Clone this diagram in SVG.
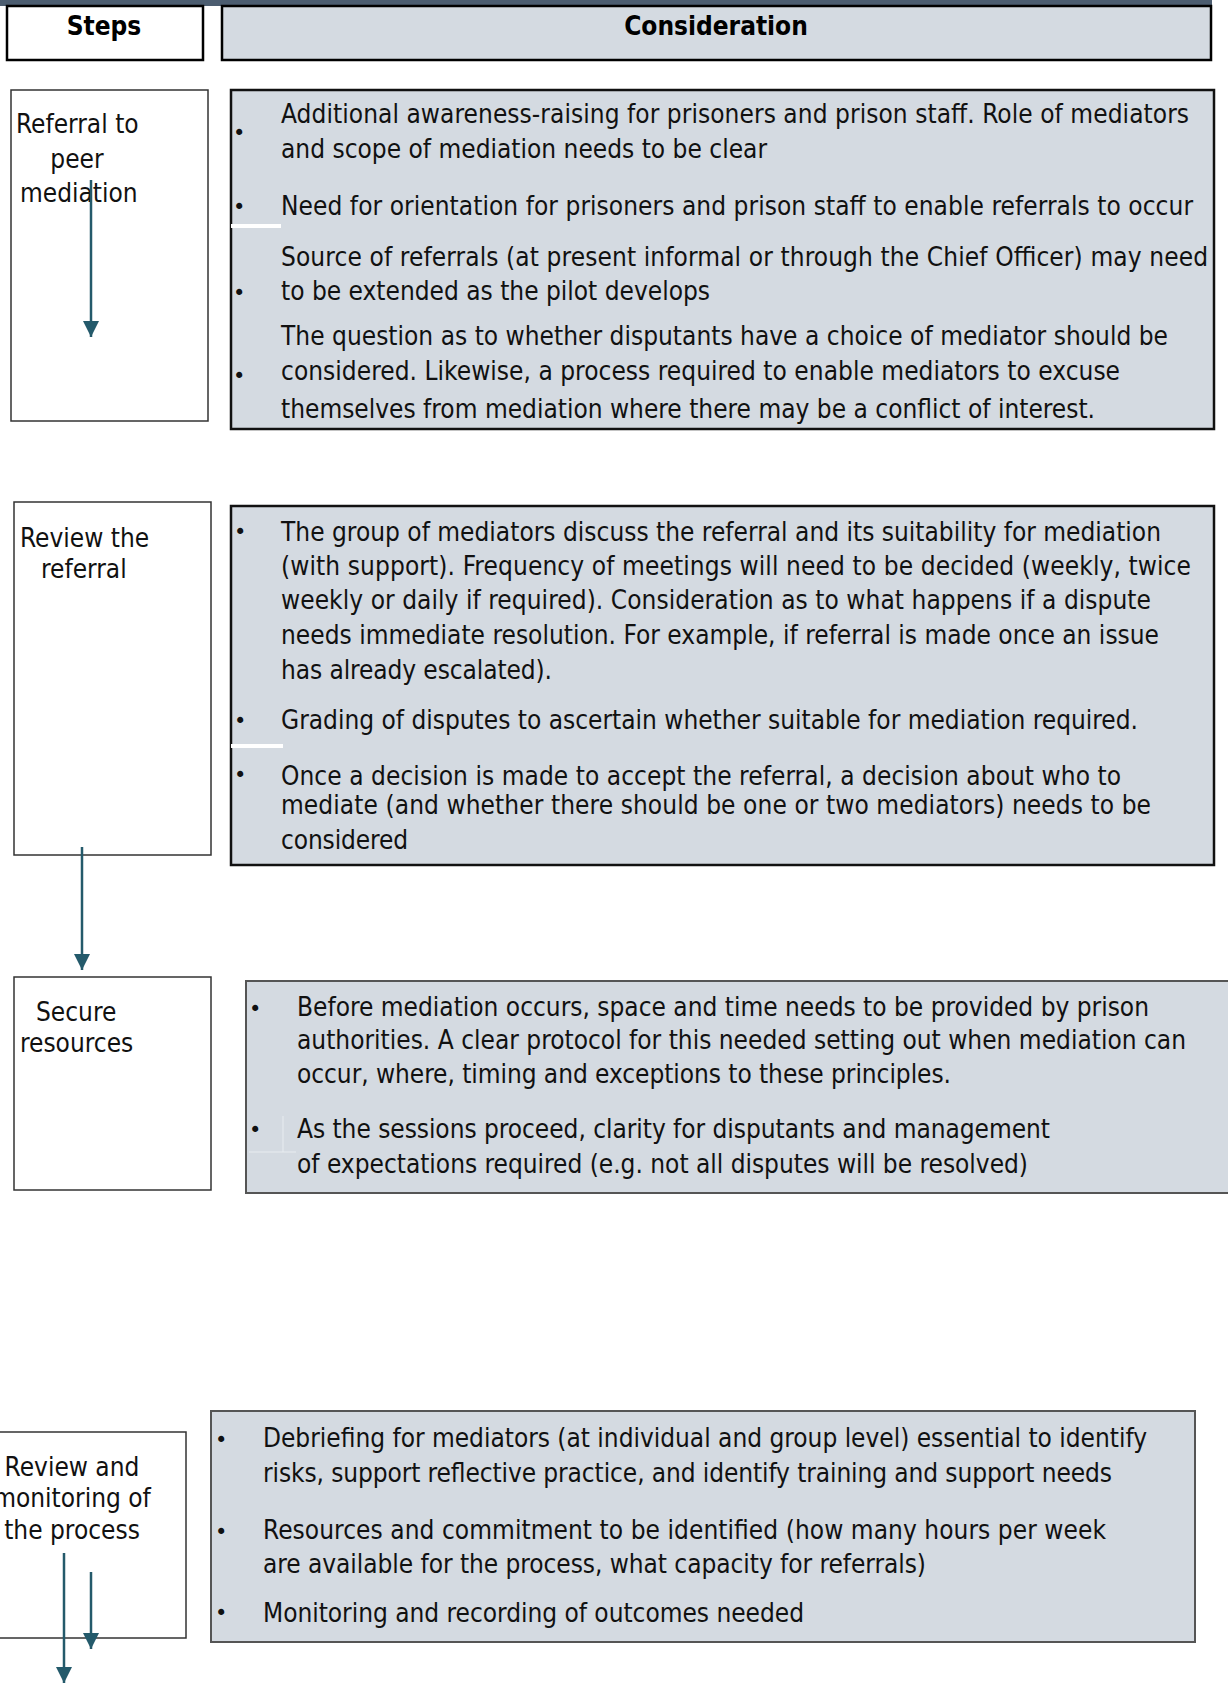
<svg xmlns="http://www.w3.org/2000/svg" width="1228" height="1683" viewBox="0 0 1228 1683">
<defs>
<style>
.t{font-family:"DejaVu Sans Condensed","DejaVu Sans",sans-serif;font-size:26px;fill:#111;font-stretch:condensed}
.h{font-family:"DejaVu Sans Condensed","DejaVu Sans",sans-serif;font-size:26px;font-weight:bold;fill:#000;font-stretch:condensed}
.b{font-family:"DejaVu Sans",sans-serif;font-size:21px;fill:#111}
.step{fill:#fff;stroke:#333;stroke-width:1.5}
.cons{fill:#d4dae1;stroke:#111;stroke-width:2.5}
.cons2{fill:#d4dae1;stroke:#555;stroke-width:2}
.arr{stroke:#245a6b;stroke-width:2.5;fill:none}
.gap{stroke:#fff;stroke-width:4}
</style>
<marker id="ah" viewBox="0 0 10 10" refX="10" refY="5" markerWidth="6.5" markerHeight="6.5" markerUnits="strokeWidth" orient="auto">
<path d="M0,0 L10,5 L0,10 Z" fill="#245a6b"/>
</marker>
</defs>
<rect width="1228" height="1683" fill="#fff"/>
<g id="header">
<rect x="0" y="0" width="1212" height="6" fill="#4c5d70"/>
<rect x="7" y="6" width="196" height="54" fill="#fff" stroke="#000" stroke-width="2.5"/>
<rect x="222" y="6" width="989" height="54" fill="#d4dae1" stroke="#000" stroke-width="2.5"/>
<text class="h" x="104" y="35" text-anchor="middle">Steps</text>
<text class="h" x="716" y="35" text-anchor="middle">Consideration</text>
</g>
<g id="step1">
<rect class="step" x="11" y="90" width="197" height="331"/>
<text class="t" x="16" y="133">Referral to</text>
<text class="t" x="77" y="168" text-anchor="middle">peer</text>
<text class="t" x="20" y="202">mediation</text>
</g>
<g id="cons1">
<rect class="cons" x="231" y="90" width="983" height="339"/>
<line class="gap" x1="231" y1="226" x2="281" y2="226"/>
<text class="b" x="233" y="140">•</text>
<text class="b" x="233" y="214">•</text>
<text class="b" x="233" y="300">•</text>
<text class="b" x="233" y="383">•</text>
<text class="t" x="281" y="123" textLength="908">Additional awareness-raising for prisoners and prison staff. Role of mediators</text>
<text class="t" x="281" y="158" textLength="486">and scope of mediation needs to be clear</text>
<text class="t" x="281" y="215" textLength="912">Need for orientation for prisoners and prison staff to enable referrals to occur</text>
<text class="t" x="281" y="266" textLength="927">Source of referrals (at present informal or through the Chief Officer) may need</text>
<text class="t" x="281" y="300" textLength="429">to be extended as the pilot develops</text>
<text class="t" x="281" y="345" textLength="887">The question as to whether disputants have a choice of mediator should be</text>
<text class="t" x="281" y="380" textLength="839">considered. Likewise, a process required to enable mediators to excuse</text>
<text class="t" x="281" y="418" textLength="814">themselves from mediation where there may be a conflict of interest.</text>
</g>
<g id="step2">
<rect class="step" x="14" y="502" width="197" height="353"/>
<text class="t" x="20" y="547">Review the</text>
<text class="t" x="41" y="578">referral</text>
</g>
<g id="cons2">
<rect class="cons" x="231" y="506" width="983" height="359"/>
<line class="gap" x1="231" y1="746" x2="283" y2="746"/>
<text class="b" x="234" y="539">•</text>
<text class="b" x="234" y="728">•</text>
<text class="b" x="234" y="782">•</text>
<text class="t" x="281" y="541" textLength="880">The group of mediators discuss the referral and its suitability for mediation</text>
<text class="t" x="281" y="575" textLength="910">(with support). Frequency of meetings will need to be decided (weekly, twice</text>
<text class="t" x="281" y="609" textLength="870">weekly or daily if required). Consideration as to what happens if a dispute</text>
<text class="t" x="281" y="644" textLength="878">needs immediate resolution. For example, if referral is made once an issue</text>
<text class="t" x="281" y="679" textLength="271">has already escalated).</text>
<text class="t" x="281" y="729" textLength="857">Grading of disputes to ascertain whether suitable for mediation required.</text>
<text class="t" x="281" y="785" textLength="840">Once a decision is made to accept the referral, a decision about who to</text>
<text class="t" x="281" y="814" textLength="870">mediate (and whether there should be one or two mediators) needs to be</text>
<text class="t" x="281" y="849" textLength="127">considered</text>
</g>
<g id="step3">
<rect class="step" x="14" y="977" width="197" height="213"/>
<text class="t" x="36" y="1021">Secure</text>
<text class="t" x="20" y="1052">resources</text>
</g>
<g id="cons3">
<rect class="cons2" x="246" y="981" width="990" height="212"/>
<line x1="283" y1="1116" x2="283" y2="1152" stroke="#e8ecf0" stroke-width="1"/>
<line x1="249" y1="1152" x2="296" y2="1152" stroke="#e8ecf0" stroke-width="1"/>
<text class="b" x="249" y="1016">•</text>
<text class="b" x="249" y="1137">•</text>
<text class="t" x="297" y="1016" textLength="852">Before mediation occurs, space and time needs to be provided by prison</text>
<text class="t" x="297" y="1049" textLength="889">authorities. A clear protocol for this needed setting out when mediation can</text>
<text class="t" x="297" y="1083" textLength="654">occur, where, timing and exceptions to these principles.</text>
<text class="t" x="297" y="1138" textLength="753">As the sessions proceed, clarity for disputants and management</text>
<text class="t" x="297" y="1173" textLength="731">of expectations required (e.g. not all disputes will be resolved)</text>
</g>
<g id="step4">
<rect class="step" x="-2" y="1432" width="188" height="206"/>
<text class="t" x="72" y="1476" text-anchor="middle">Review and</text>
<text class="t" x="72" y="1507" text-anchor="middle">monitoring of</text>
<text class="t" x="72" y="1539" text-anchor="middle">the process</text>
</g>
<g id="cons4">
<rect class="cons2" x="211" y="1411" width="984" height="231"/>
<text class="b" x="215" y="1447">•</text>
<text class="b" x="215" y="1539">•</text>
<text class="b" x="215" y="1620">•</text>
<text class="t" x="263" y="1447" textLength="884">Debriefing for mediators (at individual and group level) essential to identify</text>
<text class="t" x="263" y="1482" textLength="849">risks, support reflective practice, and identify training and support needs</text>
<text class="t" x="263" y="1539" textLength="843">Resources and commitment to be identified (how many hours per week</text>
<text class="t" x="263" y="1573" textLength="663">are available for the process, what capacity for referrals)</text>
<text class="t" x="263" y="1622" textLength="541">Monitoring and recording of outcomes needed</text>
</g>
<g id="connectors">
<line class="arr" x1="91" y1="180" x2="91" y2="337" marker-end="url(#ah)"/>
<line class="arr" x1="82" y1="847" x2="82" y2="970" marker-end="url(#ah)"/>
<line class="arr" x1="64" y1="1553" x2="64" y2="1683" marker-end="url(#ah)"/>
<line class="arr" x1="91" y1="1572" x2="91" y2="1649" marker-end="url(#ah)"/>
</g>
</svg>
